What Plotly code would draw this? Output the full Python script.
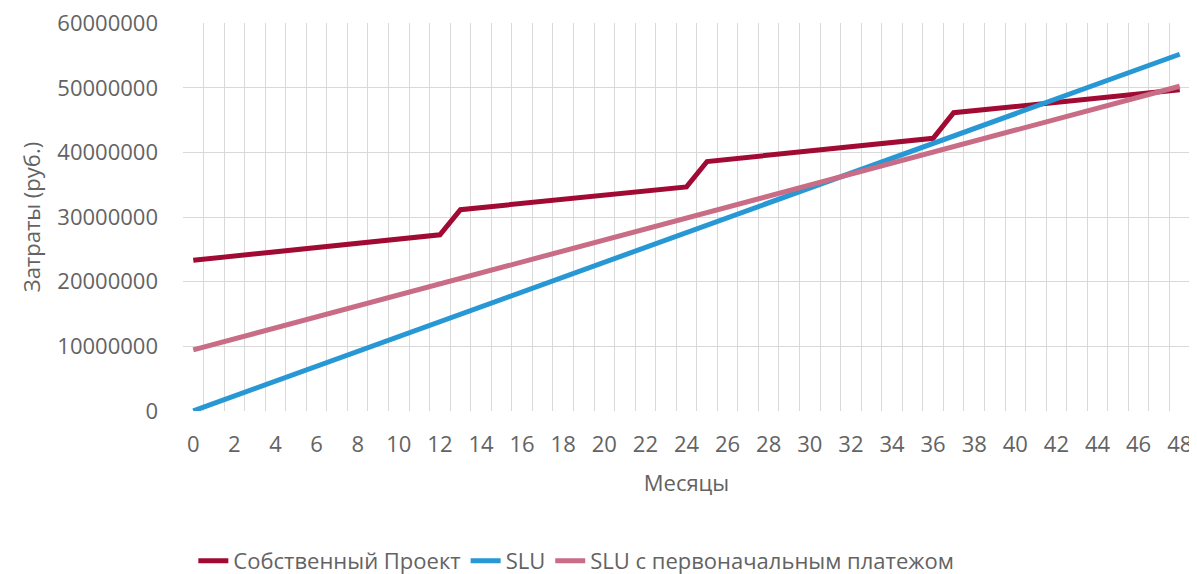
import plotly.graph_objects as go

months = list(range(0, 49))

# values in millions of rubles
own_project_m = [
    23.30, 23.63, 23.96, 24.29, 24.62, 24.95, 25.28, 25.61, 25.94, 26.27, 26.60, 26.93, 27.26,
    31.15, 31.47, 31.79, 32.11, 32.43, 32.75, 33.07, 33.39, 33.71, 34.03, 34.35, 34.67,
    38.60, 38.93, 39.26, 39.59, 39.92, 40.25, 40.58, 40.91, 41.24, 41.57, 41.90, 42.20,
    46.15, 46.48, 46.80, 47.12, 47.44, 47.76, 48.08, 48.40, 48.72, 49.04, 49.36, 49.70,
]
slu_m = [
    0.00, 1.15, 2.30, 3.45, 4.60, 5.75, 6.90, 8.05, 9.20, 10.35, 11.50, 12.65, 13.80,
    14.95, 16.10, 17.25, 18.40, 19.55, 20.70, 21.85, 23.00, 24.15, 25.30, 26.45, 27.60,
    28.75, 29.90, 31.05, 32.20, 33.35, 34.50, 35.65, 36.80, 37.95, 39.10, 40.25, 41.40,
    42.55, 43.70, 44.85, 46.00, 47.15, 48.30, 49.45, 50.60, 51.75, 52.90, 54.05, 55.20,
]
slu_initial_m = [
    9.45, 10.30, 11.15, 12.00, 12.85, 13.70, 14.55, 15.40, 16.25, 17.10, 17.95, 18.80, 19.65,
    20.50, 21.35, 22.20, 23.05, 23.90, 24.75, 25.60, 26.45, 27.30, 28.15, 29.00, 29.85,
    30.70, 31.55, 32.40, 33.25, 34.10, 34.95, 35.80, 36.65, 37.50, 38.35, 39.20, 40.05,
    40.90, 41.75, 42.60, 43.45, 44.30, 45.15, 46.00, 46.85, 47.70, 48.55, 49.40, 50.25,
]

series_names = ["Собственный Проект", "SLU", "SLU с первоначальным платежом"]
x_tick_values = list(range(0, 49, 2))
x_tick_labels = [str(m) for m in x_tick_values]
y_tick_values = [0, 10000000, 20000000, 30000000, 40000000, 50000000, 60000000]
y_tick_labels = [str(v) for v in y_tick_values]

colors = ["#A10A33", "#2898D5", "#C96C86"]
text_color = "#636363"
grid_color = "#D9D9D9"
font_family = "Open Sans"
fs = 22

fig = go.Figure()
for name, vals, col in zip(series_names, [own_project_m, slu_m, slu_initial_m], colors):
    fig.add_trace(go.Scatter(
        x=months, y=[v * 1e6 for v in vals], mode="lines", name=name,
        line=dict(color=col, width=5, shape="linear"),
    ))

# the page has an 8px body margin, so the figure is offset by 8px
fig.update_layout(
    width=1189, height=566,
    margin=dict(l=175, r=7, t=15, b=163),
    paper_bgcolor="white", plot_bgcolor="white",
    font=dict(family=font_family, color=text_color, size=fs),
    showlegend=True,
    legend=dict(
        orientation="h", xref="container", yref="container",
        x=0.478, xanchor="center", y=0.023, yanchor="middle",
        font=dict(size=fs, color=text_color),
        traceorder="normal",
    ),
)

fig.update_xaxes(
    range=[-0.5, 48.5], automargin=False,
    tickmode="array",
    tickvals=x_tick_values,
    ticktext=x_tick_labels,
    showgrid=False, zeroline=False, showline=False,
    ticks="", ticklabelstandoff=18, ticklabeloverflow="allow",
    tickfont=dict(size=fs, color=text_color),
    title=dict(text="Месяцы", font=dict(size=fs, color=text_color), standoff=18),
    minor=dict(tickvals=[m - 0.5 for m in range(0, 50)], showgrid=True,
               gridcolor=grid_color, gridwidth=1.4, ticks=""),
)
fig.update_yaxes(
    range=[-20000, 60040000], automargin=False,
    tickmode="array", tickvals=y_tick_values, ticktext=y_tick_labels,
    showgrid=True, gridcolor=grid_color, gridwidth=1.4,
    zeroline=False, showline=False, ticks="", ticklabelstandoff=24,
    ticklabeloverflow="allow",
    tickfont=dict(size=fs, color=text_color),
    title=dict(text="Затраты (руб.)", font=dict(size=fs, color=text_color), standoff=10),
)

fig.write_html("out.html")
